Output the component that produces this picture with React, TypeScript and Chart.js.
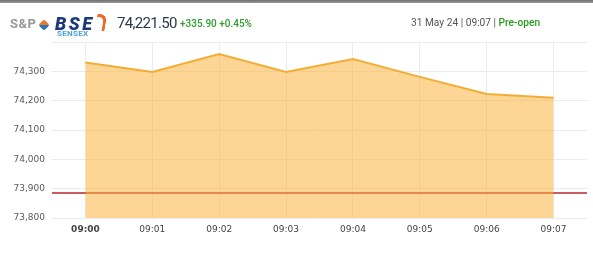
import React, { useEffect, useRef } from "react";
import { Chart, registerables } from "chart.js";

Chart.register(...registerables);

const timeLabels = ["09:00", "09:01", "09:02", "09:03", "09:04", "09:05", "09:06", "09:07"];
const sensexValues = [74330, 74298, 74359, 74298, 74342, 74281, 74223, 74210];
const previousClose = 73885.6;
const yTickValues = [73800, 73900, 74000, 74100, 74200, 74300, 74400];
const yTickLabels = ["73,800", "73,900", "74,000", "74,100", "74,200", "74,300", ""];

export default function App() {
  const canvasRef = useRef<HTMLCanvasElement | null>(null);

  useEffect(() => {
    document.body.style.margin = "0";
    const ctx = canvasRef.current;
    if (!ctx) return;
    const chart = new Chart(ctx, {
      type: "line",
      data: {
        datasets: [
          {
            label: "Sensex",
            data: sensexValues.map((v, i) => ({ x: i, y: v })),
            borderColor: "#F2AE34",
            borderWidth: 2,
            backgroundColor: "rgba(251,178,60,0.55)",
            fill: "start",
            pointRadius: 0,
            tension: 0,
            order: 1,
          },
          {
            label: "Prev close",
            data: [
              { x: -0.5, y: previousClose },
              { x: timeLabels.length - 0.5, y: previousClose },
            ],
            borderColor: "#B8262E",
            borderWidth: 1.5,
            pointRadius: 0,
            fill: false,
            order: 2,
          },
        ],
      },
      options: {
        animation: false,
        responsive: false,
        maintainAspectRatio: false,
        layout: { padding: { top: 42, right: 6, left: 0, bottom: 0 } },
        plugins: { legend: { display: false }, tooltip: { enabled: false } },
        scales: {
          x: {
            type: "linear",
            min: -0.5,
            max: timeLabels.length - 0.5,
            afterBuildTicks: (s: any) => {
              s.ticks = timeLabels.map((_, i) => ({ value: i }));
            },
            afterFit: (s: any) => {
              s.height = 56;
            },
            grid: { color: "#ebebeb", drawTicks: false, lineWidth: 1 },
            border: { display: false },
            ticks: {
              padding: 6,
              color: "#444",
              maxRotation: 0,
              autoSkip: false,
              font: (c: any) => ({
                family: "DejaVu Sans",
                size: 9,
                weight: c.index === 0 ? "bold" : "normal",
              }),
              callback: (v: any) => timeLabels[v] ?? "",
            },
          },
          y: {
            min: 73800,
            max: 74400,
            afterBuildTicks: (s: any) => {
              s.ticks = yTickValues.map((v) => ({ value: v }));
            },
            afterFit: (s: any) => {
              s.width = 52;
            },
            grid: { color: "#ebebeb", drawTicks: false, lineWidth: 1 },
            border: { display: false },
            ticks: {
              padding: 7,
              color: "#5a5a5a",
              font: { family: "DejaVu Sans", size: 9 },
              callback: (v: any) => {
                const i = yTickValues.indexOf(v);
                return i >= 0 ? yTickLabels[i] : "";
              },
            },
          },
        },
      },
    });
    return () => chart.destroy();
  }, []);

  return (
    <div style={{ position: "absolute", left: 0, top: 0, width: 593, height: 274, background: "#fff", overflow: "hidden" }}>
      <div style={{ position: "absolute", left: 0, top: 0, width: 593, height: 3, background: "linear-gradient(#6f6f6f,#9a9a9a)" }} />
      <canvas ref={canvasRef} width={593} height={274} style={{ position: "absolute", left: 0, top: 0 }} />
      <div style={{ position: "absolute", left: 10, top: 16, fontFamily: "Roboto, sans-serif", fontWeight: 700, fontSize: 13, color: "#999", letterSpacing: 0.5 }}>S&amp;P</div>
      <div style={{ position: "absolute", left: 40, top: 21, width: 8, height: 8, background: "linear-gradient(135deg,#e8772e 50%,#2a72b8 50%)", transform: "rotate(45deg)", borderRadius: 2 }} />
      <div style={{ position: "absolute", left: 55, top: 13, fontFamily: "Roboto, sans-serif", fontWeight: 900, fontStyle: "italic", fontSize: 18, color: "#1f3a7a", letterSpacing: 2.5 }}>BSE</div>
      <div style={{ position: "absolute", left: 96, top: 14, width: 7, height: 14, borderTop: "3px solid #ee6a24", borderRight: "3px solid #ee6a24", borderRadius: "0 8px 0 0", transform: "skewX(-10deg)" }} />
      <div style={{ position: "absolute", left: 57, top: 29, fontFamily: "Roboto, sans-serif", fontWeight: 700, fontSize: 8, color: "#4aa3df", letterSpacing: 0.3 }}>SENSEX</div>
      <div style={{ position: "absolute", left: 117, top: 14, fontFamily: "Roboto, sans-serif", fontSize: 15, color: "#2b3a4a", letterSpacing: -0.7 }}>74,221.50</div>
      <div style={{ position: "absolute", left: 180, top: 18, fontFamily: "Roboto, sans-serif", fontWeight: 500, fontSize: 10, color: "#2e9e2e" }}>+335.90 +0.45%</div>
      <div style={{ position: "absolute", left: 411, top: 17, fontFamily: "Roboto, sans-serif", fontSize: 10.2, color: "#555", whiteSpace: "nowrap" }}>
        31 May 24 | 09:07 | <span style={{ color: "#2a9a1f", fontWeight: 500 }}>Pre-open</span>
      </div>
    </div>
  );
}
